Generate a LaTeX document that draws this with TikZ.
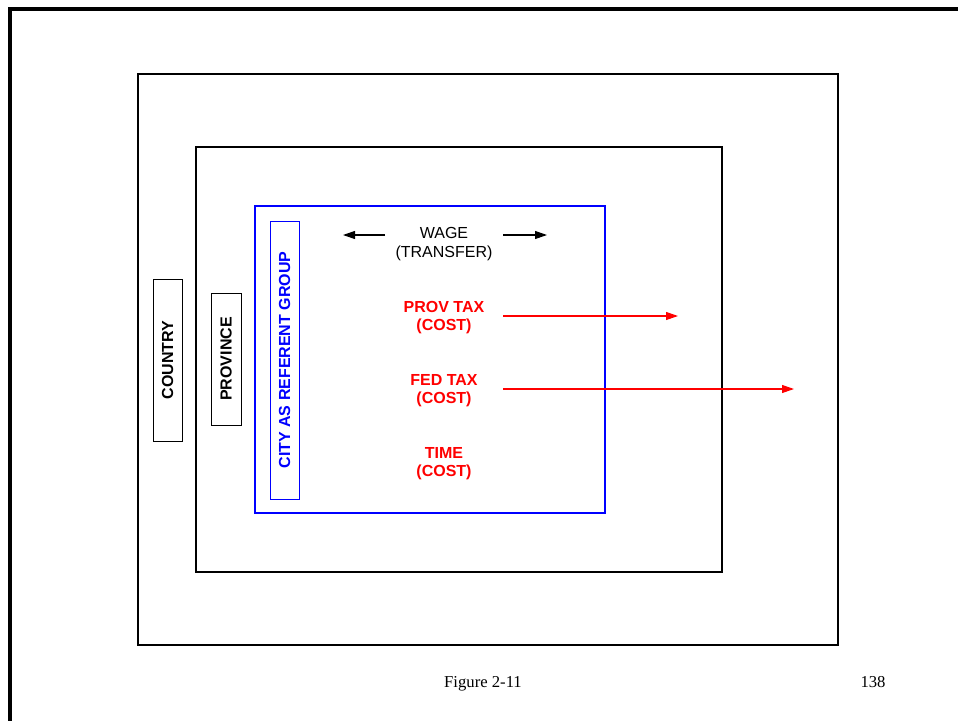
\documentclass[tikz,border=0pt]{standalone}
\usepackage{fontspec}
\setmainfont{Liberation Serif}
\setsansfont{Liberation Sans}
\usetikzlibrary{arrows.meta}
\tikzset{every picture/.style={/utils/exec={\sffamily}}}

\begin{document}
\begin{tikzpicture}[x=0.75pt, y=-0.75pt,
		lbl/.style={draw, rotate=90, inner sep=0pt, font=\fontsize{12}{14}\selectfont\bfseries},
		txt/.style={align=center, font=\fontsize{12}{14}\selectfont},
		cost/.style={align=center, text=red, font=\fontsize{12}{14}\selectfont\bfseries},
		foot/.style={anchor=base, font=\rmfamily\fontsize{12.5}{14}\selectfont},
		arr/.style={-{Triangle[length=9pt,width=6pt]}}]
		\clip (0,0) rectangle (958,721);
		\fill[white] (0,0) rectangle (958,721);
		
		% page frame
		\draw[line width=2.5pt] (10,740) -- (10,9) -- (975,9);
		
		% nested groups
		\draw[line width=0.8pt] (138,74) rectangle (838,645);
		\draw[line width=0.8pt] (196,147) rectangle (722,572);
		\draw[blue, line width=1.5pt] (255,206) rectangle (605,513);
		
		\node[lbl, minimum width=121.5pt, minimum height=21.75pt] (country) at (167.5,360) {COUNTRY};
		\node[lbl, minimum width=99pt, minimum height=22.5pt] (province) at (226,359) {PROVINCE};
		\node[lbl, blue, minimum width=208.5pt, minimum height=21.75pt] (city) at (284.5,360) {CITY AS REFERENT GROUP};
		
		% flows
		\node[txt] (wage) at (444,244) {WAGE\\(TRANSFER)};
		\node[cost] (prov) at (444,317.5) {PROV TAX\\(COST)};
		\node[cost] (fed) at (444,390.5) {FED TAX\\(COST)};
		\node[cost] (time) at (444,463.5) {TIME\\(COST)};
		
		\coordinate (wageL1) at (385,235);
		\coordinate (wageL2) at (343,235);
		\coordinate (wageR1) at (503,235);
		\coordinate (wageR2) at (547,235);
		\coordinate (provA) at (503,316);
		\coordinate (provB) at (678,316);
		\coordinate (fedA) at (503,389);
		\coordinate (fedB) at (794,389);
		
		\draw[arr, line width=0.8pt] (wageL1) -- (wageL2);
		\draw[arr, line width=0.8pt] (wageR1) -- (wageR2);
		\draw[arr, red, line width=0.8pt] (provA) -- (provB);
		\draw[arr, red, line width=0.8pt] (fedA) -- (fedB);
		
		\node[foot] (caption) at (483,687) {Figure 2-11};
		\node[foot] (pageno) at (873,687) {138};
	\end{tikzpicture}
\end{document}
